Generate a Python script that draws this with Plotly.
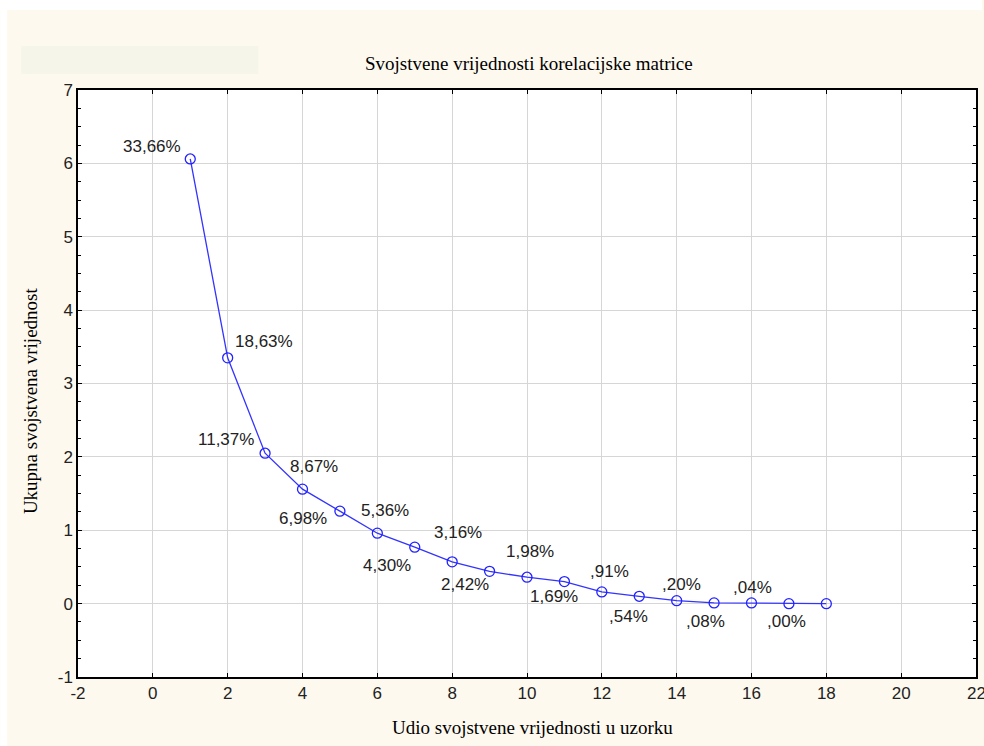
import plotly.graph_objects as go

# ---- data ----
components = list(range(1, 19))
eigenvalues = [6.06, 3.35, 2.05, 1.56, 1.26, 0.96, 0.77, 0.57, 0.44, 0.36,
               0.30, 0.16, 0.10, 0.04, 0.01, 0.01, 0.00, 0.00]
pct_labels = ["33,66%", "18,63%", "11,37%", "8,67%", "6,98%", "5,36%", "4,30%",
              "3,16%", "2,42%", "1,98%", "1,69%", ",91%", ",54%", ",20%",
              ",08%", ",04%", ",00%", ""]
x_ticks = list(range(-2, 23, 2))
x_ticktext = [str(v) for v in x_ticks]
y_ticks = list(range(-1, 8))
y_ticktext = [str(v) for v in y_ticks]

title_text = "Svojstvene vrijednosti korelacijske matrice"
x_title = "Udio svojstvene vrijednosti u uzorku"
y_title = "Ukupna svojstvena vrijednost"

# label offsets in pixels (dx right, dy down) - layout only
label_offsets = [(-38, -12), (36, -16), (-39, -14), (11, -23), (-37, 7), (8, -23),
                 (-28, 18), (6, -29), (-25, 13), (3, -26), (-10, 15), (8, -20),
                 (-11, 20), (5, -16), (-9, 19), (1, -15), (-2, 18), (0, 0)]

W, H = 984, 746
L, R, T, B = 78, 6, 90, 69
pw, ph = W - L - R, H - T - B

def px_x(p):
    return (p - L) / pw

def px_y(p):
    return (H - B - p) / ph

CREAM = "#FEF9EE"
SANS = "Liberation Sans, Arial"
SERIF = "Liberation Serif, Times New Roman"
TICKFONT = dict(family=SANS, size=17, color="#222222")

fig = go.Figure()
fig.add_trace(go.Scatter(
    x=components, y=eigenvalues, mode="lines+markers",
    line=dict(color="#3333FF", width=1.3),
    marker=dict(symbol="circle-open", size=10, color="#2222FF", line=dict(width=1.3)),
    showlegend=False, hoverinfo="skip"))

annotations = []
for xv, yv, txt, (dx, dy) in zip(components, eigenvalues, pct_labels, label_offsets):
    if not txt:
        continue
    annotations.append(dict(x=xv, y=yv, text=txt, showarrow=False,
                            xshift=dx, yshift=-dy,
                            font=dict(family=SANS, size=17, color="#222222")))

annotations += [
    dict(xref="paper", yref="paper", x=px_x(530), y=px_y(63), text=title_text,
         showarrow=False, xanchor="center", yanchor="middle",
         font=dict(family=SERIF, size=19, color="black")),
    dict(xref="paper", yref="paper", x=px_x(534), y=px_y(727), text=x_title,
         showarrow=False, xanchor="center", yanchor="middle",
         font=dict(family=SERIF, size=19, color="black")),
    dict(xref="paper", yref="paper", x=px_x(30), y=px_y(401), text=y_title,
         showarrow=False, xanchor="center", yanchor="middle", textangle=-90,
         font=dict(family=SERIF, size=19, color="black")),
    # last x tick label, which runs past the right edge of the picture
    dict(xref="x", yref="paper", x=x_ticks[-1], y=px_y(693), text=x_ticktext[-1],
         showarrow=False, xanchor="center", yanchor="middle", font=TICKFONT),
]

shapes = [
    dict(type="rect", xref="paper", yref="paper", x0=px_x(0), x1=px_x(W), y0=px_y(0), y1=px_y(10),
         fillcolor="white", line=dict(width=0), layer="below"),
    dict(type="rect", xref="paper", yref="paper", x0=px_x(0), x1=px_x(7), y0=px_y(0), y1=px_y(H),
         fillcolor="white", line=dict(width=0), layer="below"),
    dict(type="rect", xref="paper", yref="paper", x0=px_x(21), x1=px_x(259), y0=px_y(74), y1=px_y(46),
         fillcolor="#F6F5EA", line=dict(width=0), layer="below"),
]

axis_common = dict(showline=True, linecolor="black", linewidth=1.5, mirror="allticks",
                   ticks="inside", ticklen=4, tickcolor="black",
                   showgrid=True, gridcolor="#D6D6D6", gridwidth=1, zeroline=False,
                   tickfont=TICKFONT)

fig.update_layout(
    width=W, height=H,
    margin=dict(l=L, r=R, t=T, b=B),
    paper_bgcolor=CREAM, plot_bgcolor="white",
    xaxis=dict(range=[-2, 22], tickvals=x_ticks, ticktext=x_ticktext, **axis_common),
    yaxis=dict(range=[-1, 7], tickvals=y_ticks, ticktext=y_ticktext,
               minor=dict(ticks="inside", dtick=0.25, ticklen=3, tickcolor="black", showgrid=False),
               **axis_common),
    annotations=annotations,
    shapes=shapes,
)

fig.write_html("out.html", config={"displayModeBar": False},
               post_script="document.body.style.margin='0';document.body.style.overflow='hidden';")
